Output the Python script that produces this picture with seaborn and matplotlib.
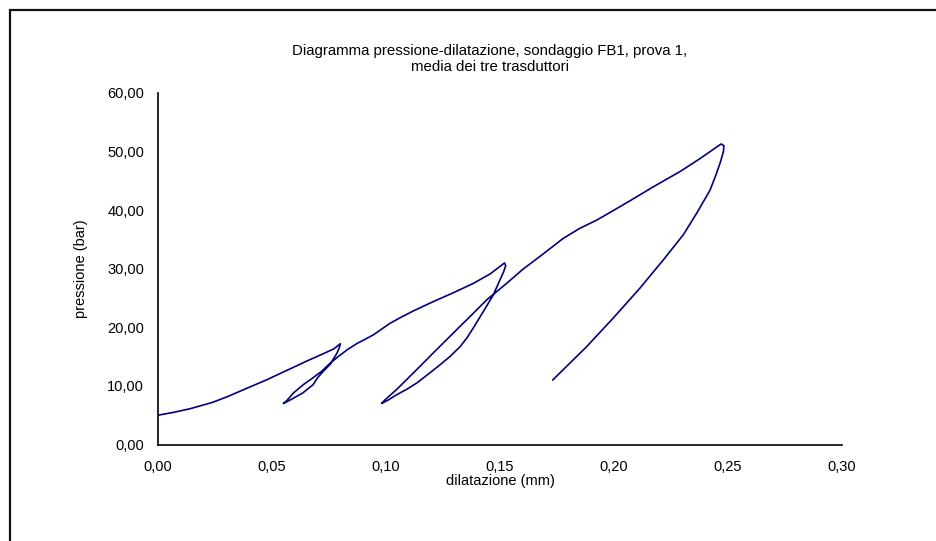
import matplotlib
matplotlib.use("Agg")
import matplotlib.pyplot as plt
import matplotlib.ticker as mticker
from matplotlib.patches import Rectangle
import seaborn as sns
import pandas as pd

# data (path order, dilatazione mm / pressione bar)
dilatazione = [
    0.000, 0.007, 0.014, 0.024, 0.030, 0.036, 0.042, 0.048, 0.054, 0.059, 0.065, 0.0725, 0.077, 0.0790, 0.0800,
    0.0795, 0.0785, 0.0755, 0.0725, 0.0700, 0.068, 0.0635, 0.058, 0.0555, 0.0550,
    0.0565, 0.0594, 0.0637, 0.0680, 0.0718, 0.075, 0.079, 0.0831, 0.0871, 0.0944, 0.1018, 0.107, 0.112, 0.1208, 0.1295,
    0.1383, 0.1456, 0.1500, 0.1520,
    0.1525, 0.1515, 0.150, 0.147, 0.1427, 0.1383, 0.1355, 0.1325, 0.128, 0.1237, 0.1185, 0.1135, 0.109, 0.1047, 0.101, 0.0981,
    0.0995, 0.1047, 0.1135, 0.1222, 0.131, 0.1383, 0.1442, 0.1529, 0.160, 0.1675, 0.1778,
    0.185, 0.1924, 0.200, 0.207, 0.2173, 0.229, 0.2377, 0.2440, 0.2470, 0.2482,
    0.2480, 0.2465, 0.2445, 0.2421, 0.2363, 0.2304, 0.2216, 0.2114, 0.1997, 0.188, 0.1731,
]
pressione = [
    5.0, 5.5, 6.1, 7.2, 8.1, 9.1, 10.1, 11.1, 12.2, 13.1, 14.2, 15.5, 16.3, 16.9, 17.2,
    16.5, 15.6, 13.7, 12.5, 11.4, 10.2, 8.8, 7.6, 7.1, 7.0,
    7.5, 8.8, 10.2, 11.4, 12.5, 13.7, 15.0, 16.2, 17.2, 18.7, 20.7, 21.8, 22.8, 24.4, 25.9,
    27.5, 29.1, 30.4, 31.0,
    30.5, 29.4, 28.1, 25.5, 22.7, 19.9, 18.2, 16.7, 15.0, 13.6, 12.0, 10.5, 9.4, 8.5, 7.6, 7.0,
    7.6, 9.4, 12.8, 16.2, 19.6, 22.4, 24.7, 27.5, 29.9, 32.1, 35.2,
    36.9, 38.3, 40.0, 41.6, 44.0, 46.6, 48.8, 50.5, 51.3, 51.0,
    50.0, 48.0, 45.8, 43.4, 39.5, 35.8, 31.5, 26.7, 21.6, 16.7, 11.0,
]
x_ticks = [0.00, 0.05, 0.10, 0.15, 0.20, 0.25, 0.30]
y_ticks = [0, 10, 20, 30, 40, 50, 60]
title = "Diagramma pressione-dilatazione, sondaggio FB1, prova 1,\nmedia dei tre trasduttori"
x_label = "dilatazione (mm)"
y_label = "pressione (bar)"

sns.set_theme(style="white")
plt.rcParams["font.family"] = ["Liberation Sans", "DejaVu Sans"]
plt.rcParams["text.color"] = "black"
plt.rcParams["axes.labelcolor"] = "black"

df = pd.DataFrame({"x": dilatazione, "y": pressione})

fig = plt.figure(figsize=(9.36, 5.41), dpi=100)
ax = fig.add_axes([158 / 936, 1 - 444.5 / 541, (842 - 158) / 936, (444.5 - 93) / 541])

sns.lineplot(data=df, x="x", y="y", sort=False, estimator=None, ax=ax,
             color="#000080", linewidth=1.2)

ax.set_xlim(0, 0.30)
ax.set_ylim(0, 60)
ax.set_xticks(x_ticks)
ax.set_yticks(y_ticks)
ax.xaxis.set_major_formatter(mticker.FuncFormatter(lambda v, p: f"{v:.2f}".replace(".", ",")))
ax.yaxis.set_major_formatter(mticker.FuncFormatter(lambda v, p: f"{v:.2f}".replace(".", ",")))
ax.tick_params(axis="both", which="major", direction="out", length=4, width=0.8,
               color="#808080", labelsize=10.5, labelcolor="black", pad=6)
ax.tick_params(axis="x", pad=7)
for s in ["top", "right"]:
    ax.spines[s].set_visible(False)
for s in ["left", "bottom"]:
    ax.spines[s].set_color("black")
    ax.spines[s].set_linewidth(1.2)

ax.set_xlabel(x_label, fontsize=10.5, labelpad=0)
ax.set_ylabel(y_label, fontsize=10.5, labelpad=14)

fig.text(490 / 936, 1 - 59 / 541, title, ha="center", va="center", fontsize=10.8,
         linespacing=1.2, color="black")

# outer chart border (open on right/bottom as in reference)
fig.add_artist(Rectangle((9.5 / 936, -0.2), 1.2, 1.2 - 9.5 / 541,
                         transform=fig.transFigure, fill=False,
                         edgecolor="#111111", linewidth=1.6, clip_on=False))

fig.savefig("out.png", dpi=100)
